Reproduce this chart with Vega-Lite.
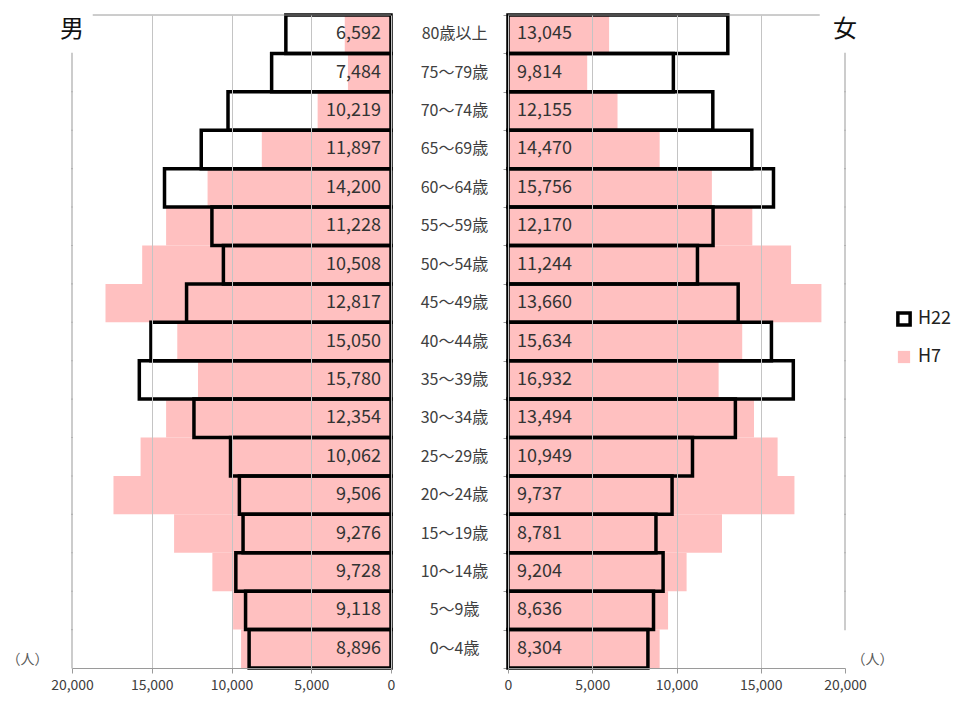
{
  "$schema": "https://vega.github.io/schema/vega-lite/v6.json",
  "padding": {"left": 6, "top": 13, "right": 5, "bottom": 5},
  "config": {
    "font": "Noto Sans CJK JP",
    "view": {"stroke": null}
  },
  "datasets": {
    "pop": [
      {"sex": "男", "age": "80歳以上", "H22": 6592, "H7": 2900},
      {"sex": "男", "age": "75〜79歳", "H22": 7484, "H7": 2700},
      {"sex": "男", "age": "70〜74歳", "H22": 10219, "H7": 4600},
      {"sex": "男", "age": "65〜69歳", "H22": 11897, "H7": 8100},
      {"sex": "男", "age": "60〜64歳", "H22": 14200, "H7": 11500},
      {"sex": "男", "age": "55〜59歳", "H22": 11228, "H7": 14100},
      {"sex": "男", "age": "50〜54歳", "H22": 10508, "H7": 15600},
      {"sex": "男", "age": "45〜49歳", "H22": 12817, "H7": 17900},
      {"sex": "男", "age": "40〜44歳", "H22": 15050, "H7": 13400},
      {"sex": "男", "age": "35〜39歳", "H22": 15780, "H7": 12100},
      {"sex": "男", "age": "30〜34歳", "H22": 12354, "H7": 14100},
      {"sex": "男", "age": "25〜29歳", "H22": 10062, "H7": 15700},
      {"sex": "男", "age": "20〜24歳", "H22": 9506, "H7": 17400},
      {"sex": "男", "age": "15〜19歳", "H22": 9276, "H7": 13600},
      {"sex": "男", "age": "10〜14歳", "H22": 9728, "H7": 11200},
      {"sex": "男", "age": "5〜9歳", "H22": 9118, "H7": 9900},
      {"sex": "男", "age": "0〜4歳", "H22": 8896, "H7": 9400},
      {"sex": "女", "age": "80歳以上", "H22": 13045, "H7": 6000},
      {"sex": "女", "age": "75〜79歳", "H22": 9814, "H7": 4700},
      {"sex": "女", "age": "70〜74歳", "H22": 12155, "H7": 6500},
      {"sex": "女", "age": "65〜69歳", "H22": 14470, "H7": 9000},
      {"sex": "女", "age": "60〜64歳", "H22": 15756, "H7": 12100},
      {"sex": "女", "age": "55〜59歳", "H22": 12170, "H7": 14500},
      {"sex": "女", "age": "50〜54歳", "H22": 11244, "H7": 16800},
      {"sex": "女", "age": "45〜49歳", "H22": 13660, "H7": 18600},
      {"sex": "女", "age": "40〜44歳", "H22": 15634, "H7": 13900},
      {"sex": "女", "age": "35〜39歳", "H22": 16932, "H7": 12500},
      {"sex": "女", "age": "30〜34歳", "H22": 13494, "H7": 14600},
      {"sex": "女", "age": "25〜29歳", "H22": 10949, "H7": 16000},
      {"sex": "女", "age": "20〜24歳", "H22": 9737, "H7": 17000},
      {"sex": "女", "age": "15〜19歳", "H22": 8781, "H7": 12700},
      {"sex": "女", "age": "10〜14歳", "H22": 9204, "H7": 10600},
      {"sex": "女", "age": "5〜9歳", "H22": 8636, "H7": 9500},
      {"sex": "女", "age": "0〜4歳", "H22": 8304, "H7": 9000}
    ]
  },
  "bounds": "flush",
  "spacing": 0,
  "hconcat": [
    {
      "width": 319,
      "height": 653,
      "data": {"name": "pop"},
      "encoding": {
        "y": {
          "field": "age", "type": "nominal",
          "scale": {"domain": ["80歳以上","75〜79歳","70〜74歳","65〜69歳","60〜64歳","55〜59歳","50〜54歳","45〜49歳","40〜44歳","35〜39歳","30〜34歳","25〜29歳","20〜24歳","15〜19歳","10〜14歳","5〜9歳","0〜4歳"], "paddingInner": 0, "paddingOuter": 0},
          "axis": null
        }
      },
      "layer": [
        {
          "transform": [
            {"filter": "datum.sex === '男'"},
            {"fold": ["H22", "H7"], "as": ["year", "value"]},
            {"filter": "datum.year === 'H7'"}
          ],
          "mark": {"type": "bar"},
          "encoding": {
            "x": {
              "field": "value", "type": "quantitative",
              "scale": {"domain": [0, 20000], "reverse": true, "nice": false},
              "axis": {
                "values": [0, 5000, 10000, 15000, 20000], "format": ",.0f",
                "grid": true, "gridColor": "#c4c4c4",
                "gridOpacity": {"condition": {"test": "datum.value === 20000", "value": 0}, "value": 1},
                "domainColor": "#9a9a9a", "tickColor": "#9a9a9a", "tickSize": 5,
                "labelFontSize": 14, "labelColor": "#404040", "labelPadding": 5, "labelFlush": false, "labelOverlap": false,
                "title": "（人）", "titleX": -45, "titleY": -9, "titleFontSize": 14, "titleFontWeight": "normal",
                "titleColor": "#595959", "titleAlign": "center", "titleBaseline": "middle", "zindex": 1
              }
            },
            "fill": {"field": "year", "type": "nominal", "scale": {"domain": ["H22", "H7"], "range": ["transparent", "#ffc0c0"]}, "legend": {"title": null, "orient": "none", "legendX": 823, "legendY": 295, "labelFontSize": 18, "labelColor": "#222222", "symbolType": "square", "symbolSize": 150, "symbolStrokeWidth": 3.5, "rowPadding": 10, "labelOffset": 5}},
            "stroke": {"field": "year", "type": "nominal", "scale": {"domain": ["H22", "H7"], "range": ["#000000", "transparent"]}, "legend": {"title": null, "orient": "none", "legendX": 823, "legendY": 295, "labelFontSize": 18, "labelColor": "#222222", "symbolType": "square", "symbolSize": 150, "symbolStrokeWidth": 3.5, "rowPadding": 10, "labelOffset": 5}}
          }
        },
        {
          "transform": [
            {"filter": "datum.sex === '男'"},
            {"fold": ["H22", "H7"], "as": ["year", "value"]},
            {"filter": "datum.year === 'H22'"}
          ],
          "mark": {"type": "bar", "strokeWidth": 3.5},
          "encoding": {
            "x": {"field": "value", "type": "quantitative"},
            "fill": {"field": "year", "type": "nominal"},
            "stroke": {"field": "year", "type": "nominal"}
          }
        },
        {
          "transform": [{"filter": "datum.sex === '男'"}],
          "mark": {"type": "text", "align": "right", "baseline": "middle", "dx": -10, "fontSize": 18, "color": "#333333"},
          "encoding": {
            "x": {"datum": 0},
            "text": {"field": "H22", "type": "quantitative", "format": ","}
          }
        },
        {
          "transform": [{"filter": "datum.sex === '男' && datum.age === '80歳以上'"}],
          "mark": {"type": "rule", "color": "#9a9a9a", "strokeWidth": 1},
          "encoding": {
            "x": {"datum": 18700}, "x2": {"datum": 0},
            "y": {"field": "age", "type": "nominal", "bandPosition": 0}
          }
        },
        {
          "transform": [{"filter": "datum.sex === '男' && datum.age !== '80歳以上'"}],
          "mark": {"type": "tick", "color": "#9a9a9a", "thickness": 1, "size": 39.5, "opacity": 1},
          "encoding": {
            "x": {"datum": 20000}
          }
        },
        {
          "transform": [{"filter": "datum.sex === '男' && datum.age === '80歳以上'"}],
          "mark": {"type": "text", "align": "center", "baseline": "middle", "fontSize": 24, "color": "#111111", "text": "男"},
          "encoding": {
            "x": {"datum": 20000},
            "y": {"field": "age", "type": "nominal", "bandPosition": 0.4}
          }
        }
      ]
    },
    {
      "width": 117,
      "height": 653,
      "data": {"name": "pop"},
      "transform": [{"filter": "datum.sex === '男'"}],
      "mark": {"type": "text", "align": "center", "baseline": "middle", "fontSize": 16, "color": "#404040", "dx": 5},
      "encoding": {
        "y": {
          "field": "age", "type": "nominal",
          "scale": {"domain": ["80歳以上","75〜79歳","70〜74歳","65〜69歳","60〜64歳","55〜59歳","50〜54歳","45〜49歳","40〜44歳","35〜39歳","30〜34歳","25〜29歳","20〜24歳","15〜19歳","10〜14歳","5〜9歳","0〜4歳"], "paddingInner": 0, "paddingOuter": 0},
          "axis": null
        },
        "text": {"field": "age", "type": "nominal"}
      }
    },
    {
      "width": 337,
      "height": 653,
      "data": {"name": "pop"},
      "encoding": {
        "y": {
          "field": "age", "type": "nominal",
          "scale": {"domain": ["80歳以上","75〜79歳","70〜74歳","65〜69歳","60〜64歳","55〜59歳","50〜54歳","45〜49歳","40〜44歳","35〜39歳","30〜34歳","25〜29歳","20〜24歳","15〜19歳","10〜14歳","5〜9歳","0〜4歳"], "paddingInner": 0, "paddingOuter": 0},
          "axis": {"orient": "left", "labels": false, "domain": false, "ticks": true, "tickBand": "extent", "tickSize": 5, "tickColor": "#9a9a9a", "title": null, "grid": false}
        }
      },
      "layer": [
        {
          "transform": [
            {"filter": "datum.sex === '女'"},
            {"fold": ["H22", "H7"], "as": ["year", "value"]},
            {"filter": "datum.year === 'H7'"}
          ],
          "mark": {"type": "bar"},
          "encoding": {
            "x": {
              "field": "value", "type": "quantitative",
              "scale": {"domain": [0, 20000], "nice": false},
              "axis": {
                "values": [0, 5000, 10000, 15000, 20000], "format": ",.0f",
                "grid": true, "gridColor": "#c4c4c4",
                "gridOpacity": {"condition": {"test": "datum.value === 20000", "value": 0}, "value": 1},
                "domainColor": "#9a9a9a", "tickColor": "#9a9a9a", "tickSize": 5,
                "labelFontSize": 14, "labelColor": "#404040", "labelPadding": 5, "labelFlush": false, "labelOverlap": false,
                "title": "（人）", "titleX": 364, "titleY": -9, "titleFontSize": 14, "titleFontWeight": "normal",
                "titleColor": "#595959", "titleAlign": "center", "titleBaseline": "middle", "zindex": 1
              }
            },
            "fill": {"field": "year", "type": "nominal"},
            "stroke": {"field": "year", "type": "nominal"}
          }
        },
        {
          "transform": [
            {"filter": "datum.sex === '女'"},
            {"fold": ["H22", "H7"], "as": ["year", "value"]},
            {"filter": "datum.year === 'H22'"}
          ],
          "mark": {"type": "bar", "strokeWidth": 3.5},
          "encoding": {
            "x": {"field": "value", "type": "quantitative"},
            "fill": {"field": "year", "type": "nominal"},
            "stroke": {"field": "year", "type": "nominal"}
          }
        },
        {
          "transform": [{"filter": "datum.sex === '女'"}],
          "mark": {"type": "text", "align": "left", "baseline": "middle", "dx": 9, "fontSize": 18, "color": "#333333"},
          "encoding": {
            "x": {"datum": 0},
            "text": {"field": "H22", "type": "quantitative", "format": ","}
          }
        },
        {
          "transform": [{"filter": "datum.sex === '女' && datum.age === '80歳以上'"}],
          "mark": {"type": "rule", "color": "#9a9a9a", "strokeWidth": 1},
          "encoding": {
            "x": {"datum": 0}, "x2": {"datum": 18500},
            "y": {"field": "age", "type": "nominal", "bandPosition": 0}
          }
        },
        {
          "transform": [{"filter": "datum.sex === '女' && datum.age !== '80歳以上' && datum.age !== '0〜4歳'"}],
          "mark": {"type": "tick", "color": "#9a9a9a", "thickness": 1, "size": 39.5, "opacity": 1},
          "encoding": {
            "x": {"datum": 20000}
          }
        },
        {
          "transform": [{"filter": "datum.sex === '女' && datum.age === '80歳以上'"}],
          "mark": {"type": "text", "align": "center", "baseline": "middle", "fontSize": 24, "color": "#111111", "text": "女"},
          "encoding": {
            "x": {"datum": 20000},
            "y": {"field": "age", "type": "nominal", "bandPosition": 0.4}
          }
        }
      ]
    }
  ]
}
